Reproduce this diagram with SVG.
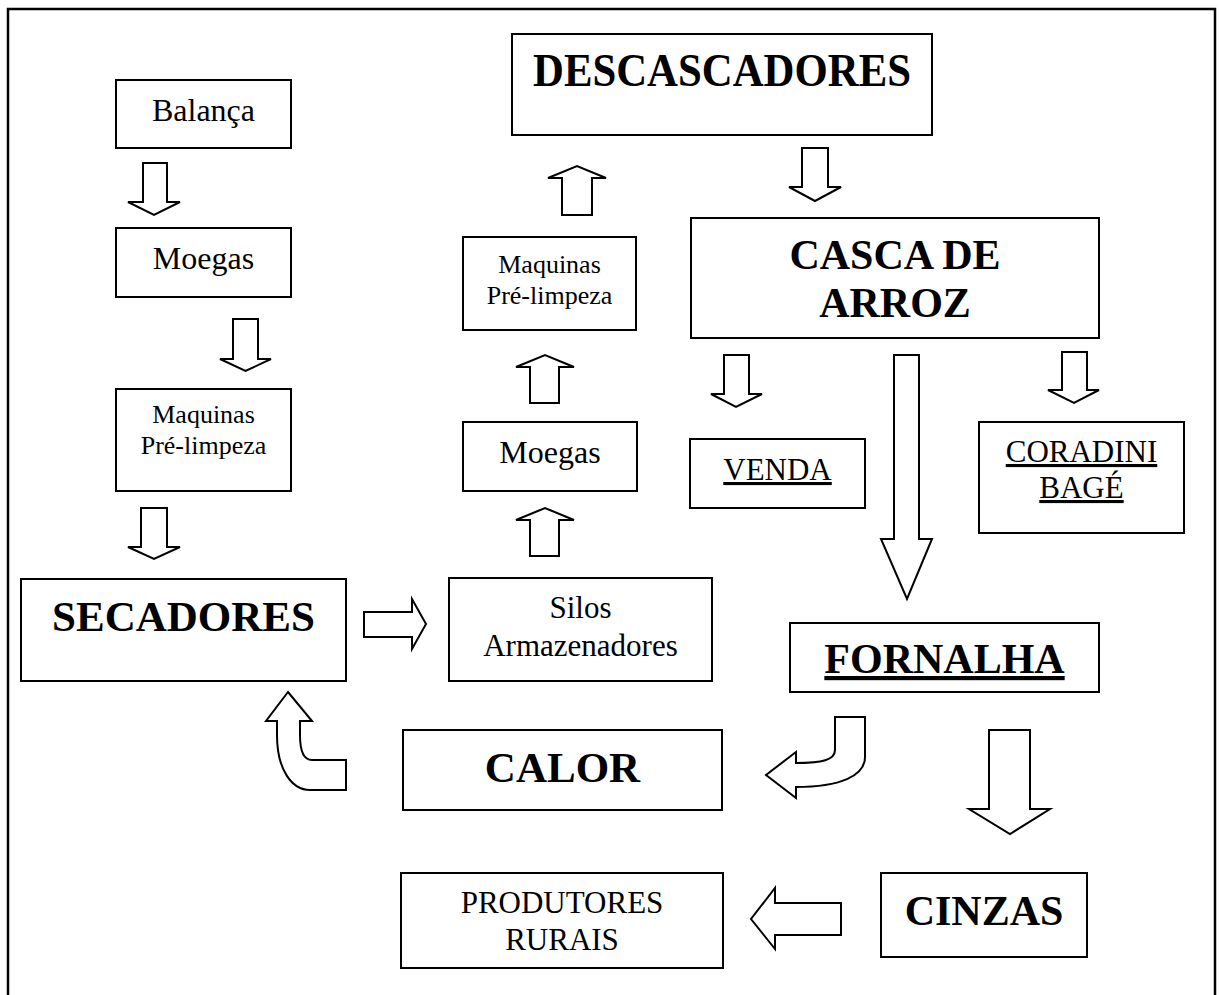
<svg xmlns="http://www.w3.org/2000/svg" width="1220" height="995" viewBox="0 0 1220 995">
<style>
.box{fill:#fff;stroke:#000;stroke-width:2}
.arr{fill:#fff;stroke:#000;stroke-width:2;stroke-linejoin:miter}
.t{font-family:"Liberation Serif","Times New Roman",serif;fill:#000;text-anchor:middle}
.s26{font-size:26px}
.s31{font-size:31px}
.s32{font-size:32px}
.b{font-weight:bold}
.u{text-decoration:underline}
</style>
<rect width="1220" height="995" fill="#fff"/>
<path d="M8,995 L8,9 L1215,9 L1215,995" fill="none" stroke="#000" stroke-width="2.5"/>

<g id="balanca"><rect class="box" x="116" y="80" width="175" height="68"/><text class="t s32" x="203.5" y="121">Balança</text></g>
<g id="moegas1"><rect class="box" x="116" y="228" width="175" height="69"/><text class="t s32" x="203.5" y="269">Moegas</text></g>
<g id="maquinas1"><rect class="box" x="116" y="389" width="175" height="102"/><text class="t s26" x="203.5" y="423">Maquinas</text><text class="t s26" x="203.5" y="454">Pré-limpeza</text></g>
<g id="secadores"><rect class="box" x="21" y="579" width="325" height="102"/><text class="t b" font-size="43" x="183.5" y="631">SECADORES</text></g>
<g id="silos"><rect class="box" x="449" y="578" width="263" height="103"/><text class="t s31" x="580.5" y="618">Silos</text><text class="t s31" x="580.5" y="656">Armazenadores</text></g>
<g id="moegas2"><rect class="box" x="463" y="422" width="174" height="69"/><text class="t s32" x="550" y="463">Moegas</text></g>
<g id="maquinas2"><rect class="box" x="463" y="237" width="173" height="93"/><text class="t s26" x="549.5" y="273">Maquinas</text><text class="t s26" x="549.5" y="304">Pré-limpeza</text></g>
<g id="descascadores"><rect class="box" x="512" y="34" width="420" height="101"/><text class="t b" font-size="46" x="722" y="86" textLength="378" lengthAdjust="spacingAndGlyphs">DESCASCADORES</text></g>
<g id="casca"><rect class="box" x="691" y="218" width="408" height="120"/><text class="t b" font-size="42" x="895" y="269">CASCA DE</text><text class="t b" font-size="42" x="895" y="317">ARROZ</text></g>
<g id="venda"><rect class="box" x="690" y="439" width="175" height="69"/><text class="t s31 u" x="777.5" y="480">VENDA</text></g>
<g id="coradini"><rect class="box" x="979" y="422" width="205" height="111"/><text class="t s31 u" x="1081.5" y="462">CORADINI</text><text class="t s31 u" x="1081.5" y="498">BAGÉ</text></g>
<g id="fornalha"><rect class="box" x="790" y="623" width="309" height="69"/><text class="t b u" font-size="42" x="944.5" y="673">FORNALHA</text></g>
<g id="calor"><rect class="box" x="403" y="730" width="319" height="80"/><text class="t b" font-size="43" x="562.5" y="782">CALOR</text></g>
<g id="cinzas"><rect class="box" x="881" y="873" width="206" height="84"/><text class="t b" font-size="42" x="984" y="925">CINZAS</text></g>
<g id="produtores"><rect class="box" x="401" y="873" width="322" height="95"/><text class="t s31" x="562" y="913">PRODUTORES</text><text class="t s31" x="562" y="950">RURAIS</text></g>

<g id="connectors">
<polygon class="arr" points="143,163 167,163 167,202 180,202 154,215 128,202 143,202"/>
<polygon class="arr" points="233,319 258,319 258,359 271,359 245.5,371 220,359 233,359"/>
<polygon class="arr" points="141,508 167,508 167,547 180,547 154,559 128,547 141,547"/>
<polygon class="arr" points="364,612 412,612 412,599 426,624 412,649 412,637 364,637"/>
<polygon class="arr" points="530,556 559,556 559,520 574,520 545,508 516,520 530,520"/>
<polygon class="arr" points="530,403 559,403 559,367 574,367 545,355 516,367 530,367"/>
<polygon class="arr" points="562,215 592,215 592,178 606,178 577,166 548,178 562,178"/>
<polygon class="arr" points="802,148 828,148 828,187 841,187 815,201 789,187 802,187"/>
<polygon class="arr" points="724,355 749,355 749,394 762,394 736,407 711,394 724,394"/>
<polygon class="arr" points="894,355 919,355 919,539 932,539 907,599 881,539 894,539"/>
<polygon class="arr" points="1062,352 1087,352 1087,390 1099,390 1074,403 1048,390 1062,390"/>
<polygon class="arr" points="989,730 1030,730 1030,809 1050,809 1010,834 969,809 989,809"/>
<polygon class="arr" points="841,903 841,935 775,935 775,949 751,919 775,888 775,903"/>
<path class="arr" d="M835,717 L865,717 L865,757 C865,776 840,787 796,787 L796,798 L766,775 L796,752 L796,763 C822,763 835,760 835,750 Z"/>
<path class="arr" d="M288,692 L312,721 L300,721 L300,735 C300,750 303,760 312,760 L346,760 L346,790 L310,790 C292,790 277,770 277,735 L277,721 L266,721 Z"/>
</g>
</svg>
